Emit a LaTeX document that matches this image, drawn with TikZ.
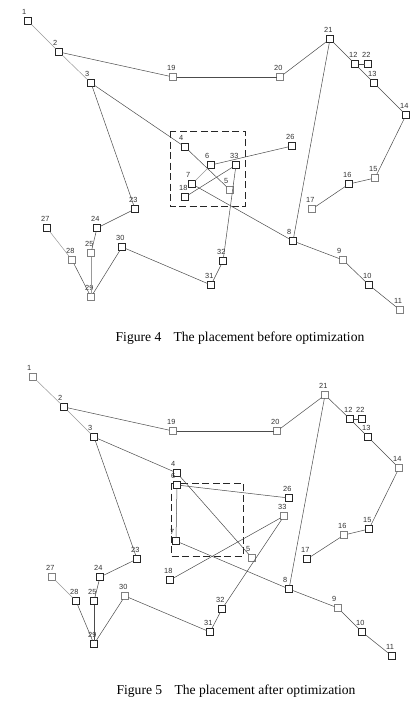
\documentclass[tikz,border=0pt]{standalone}
\usepackage{fontspec}
\setmainfont{Liberation Serif}
\newfontfamily\labfont{Liberation Sans}
\begin{document}
\begin{tikzpicture}[x=1pt,y=-1pt,
  box/.style={draw=black!85,fill=white,line width=0.6pt,minimum size=7pt,inner sep=0pt,outer sep=0pt},
  gbox/.style={box,draw=black!50},
  lbl/.style={anchor=base west,inner sep=0pt,xshift=-2.5pt,yshift=2.6pt,font=\labfont\fontsize{7.4}{7.4}\selectfont,text=black!80},
  lab/.style={label={[lbl]north west:#1}},
  edge/.style={draw=black!70,line width=0.5pt},
  ledge/.style={draw=black!40,line width=0.5pt},
  dbox/.style={draw=black!85,line width=0.8pt,dash pattern=on 7pt off 3.5pt},
  captext/.style={font=\fontsize{13.6}{15}\selectfont,inner sep=0pt,anchor=base}]
\useasboundingbox[fill=white] (0,0) rectangle (419,706);
% ---------- Figure 4 ----------
\draw[dbox] (170,131) rectangle (245,206);
\node[box,lab=1]  (a1)  at (28,21) {};
\node[box,lab=2]  (a2)  at (59,52) {};
\node[box,lab=3]  (a3)  at (91,83) {};
\node[box,lab=4]  (a4)  at (185,147) {};
\node[gbox,lab=5] (a5)  at (230,190) {};
\node[box,lab=6]  (a6)  at (211,165) {};
\node[box,lab=7]  (a7)  at (192,184) {};
\node[box,lab=8]  (a8)  at (293,241) {};
\node[gbox,lab=9] (a9)  at (343,260) {};
\node[box,lab=10] (a10) at (369,285) {};
\node[gbox,lab=11] (a11) at (400,310) {};
\node[box,lab=12] (a12) at (355,64) {};
\node[box,lab=13] (a13) at (374,83) {};
\node[box,lab=14] (a14) at (406,115) {};
\node[gbox,lab=15] (a15) at (375,178) {};
\node[box,lab=16] (a16) at (349,184) {};
\node[gbox,lab=17] (a17) at (312,209) {};
\node[box,lab=18] (a18) at (185,197) {};
\node[gbox,lab=19] (a19) at (173,77) {};
\node[gbox,lab=20] (a20) at (280,77) {};
\node[box,lab=21] (a21) at (330,39) {};
\node[box,lab=22] (a22) at (368,64) {};
\node[box,lab=23] (a23) at (135,209) {};
\node[box,lab=24] (a24) at (97,228) {};
\node[gbox,lab=25] (a25) at (91,253) {};
\node[box,lab=26] (a26) at (292,146) {};
\node[box,lab=27] (a27) at (47,228) {};
\node[gbox,lab=28] (a28) at (72,260) {};
\node[gbox,lab=29] (a29) at (91,297) {};
\node[box,lab=30] (a30) at (122,247) {};
\node[box,lab=31] (a31) at (211,285) {};
\node[box,lab=32] (a32) at (223,261) {};
\node[box,lab=33] (a33) at (236,165) {};
\foreach \u/\v in {2/19,19/20,20/21,21/12,12/22,12/13,13/14,14/15,15/16,16/17,3/4,3/23,4/5,6/26,7/8,18/33,33/32,8/21,8/9,9/10,10/11,23/24,24/25,28/29,29/30,30/31,31/32}
  \draw[edge] (a\u) -- (a\v);
\foreach \u/\v in {1/2,2/3,6/7,27/28}
  \draw[ledge] (a\u) -- (a\v);
\draw[ledge,line width=1pt] (a25) -- (a29);
\node[captext] (c4) at (240,341) {Figure 4\hspace{0.9em}The placement before optimization};
% ---------- Figure 5 ----------
\draw[dbox] (171,483) rectangle (243,556);
\node[gbox,lab=1] (b1)  at (33,377) {};
\node[box,lab=2]  (b2)  at (64,407) {};
\node[box,lab=3]  (b3)  at (94,437) {};
\node[box,lab=4]  (b4)  at (177,473) {};
\node[gbox,lab=5] (b5)  at (252,558) {};
\node[box,lab=6]  (b6)  at (177,485) {};
\node[box,lab=7]  (b7)  at (176,541) {};
\node[box,lab=8]  (b8)  at (289,589) {};
\node[gbox,lab=9] (b9)  at (338,608) {};
\node[box,lab=10] (b10) at (362,632) {};
\node[box,lab=11] (b11) at (392,656) {};
\node[box,lab=12] (b12) at (350,419) {};
\node[box,lab=13] (b13) at (368,437) {};
\node[gbox,lab=14] (b14) at (399,468) {};
\node[box,lab=15] (b15) at (369,529) {};
\node[gbox,lab=16] (b16) at (344,535) {};
\node[box,lab=17] (b17) at (307,559) {};
\node[box,lab=18] (b18) at (170,580) {};
\node[gbox,lab=19] (b19) at (173,431) {};
\node[gbox,lab=20] (b20) at (277,431) {};
\node[gbox,lab=21] (b21) at (325,395) {};
\node[box,lab=22] (b22) at (362,419) {};
\node[box,lab=23] (b23) at (137,559) {};
\node[box,lab=24] (b24) at (100,577) {};
\node[box,lab=25] (b25) at (94,601) {};
\node[box,lab=26] (b26) at (289,498) {};
\node[gbox,lab=27] (b27) at (52,577) {};
\node[box,lab=28] (b28) at (76,601) {};
\node[box,lab=29] (b29) at (94,644) {};
\node[gbox,lab=30] (b30) at (125,596) {};
\node[box,lab=31] (b31) at (210,632) {};
\node[box,lab=32] (b32) at (222,609) {};
\node[gbox,lab=33] (b33) at (284,516) {};
\foreach \u/\v in {2/19,19/20,20/21,21/12,12/22,12/13,13/14,14/15,15/16,16/17,3/4,3/23,4/5,6/26,6/7,7/8,18/33,33/32,8/21,8/9,9/10,10/11,23/24,24/25,25/29,28/29,29/30,30/31,31/32}
  \draw[edge] (b\u) -- (b\v);
\foreach \u/\v in {1/2,2/3,27/28}
  \draw[ledge] (b\u) -- (b\v);
\node[captext] (c5) at (236,694) {Figure 5\hspace{0.9em}The placement after optimization};
\end{tikzpicture}
\end{document}
